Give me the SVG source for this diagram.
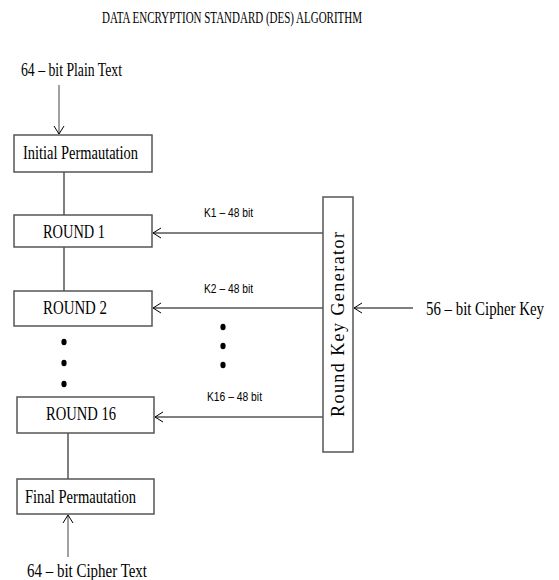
<svg xmlns="http://www.w3.org/2000/svg" width="559" height="580" viewBox="0 0 559 580">
  <style>
    .box { fill: #ffffff; stroke: #555555; stroke-width: 1.5; }
    .serif { font-family: "Liberation Serif", "Times New Roman", serif; fill: #000000; }
    .sans { font-family: "Liberation Sans", Arial, sans-serif; fill: #000000; font-size: 12px; }
    .link { stroke: #555555; stroke-width: 1.5; fill: none; }
    .key { stroke: #000000; stroke-width: 1; fill: none; marker-end: url(#open); }
    .feed { stroke: #444444; stroke-width: 1; fill: none; marker-end: url(#open); }
    .dot { fill: #000000; }
  </style>
  <defs>
    <marker id="open" viewBox="0 0 12 12" refX="11" refY="6" markerWidth="12" markerHeight="12" markerUnits="userSpaceOnUse" orient="auto">
      <polyline points="3,1 11,6 3,11" fill="none" stroke="#000000" stroke-width="1"/>
    </marker>
  </defs>

  <rect width="559" height="580" fill="#ffffff"/>

  <text class="serif" x="102" y="23" font-size="16" textLength="260" lengthAdjust="spacingAndGlyphs">DATA ENCRYPTION STANDARD (DES) ALGORITHM</text>

  <text class="serif" x="21" y="76" font-size="18" textLength="101" lengthAdjust="spacingAndGlyphs">64 – bit Plain Text</text>
  <!-- tall, narrow key label: vertical stretch keeps the glyph box inside the canvas -->
  <text class="serif" transform="translate(426 315) scale(1 1.2)" x="0" y="0" font-size="15" textLength="118" lengthAdjust="spacingAndGlyphs">56 – bit Cipher Key</text>
  <text class="serif" x="27" y="577" font-size="18" textLength="120" lengthAdjust="spacingAndGlyphs">64 – bit Cipher Text</text>

  <!-- connectors -->
  <g id="connectors">
    <line class="feed" x1="59" y1="85" x2="59" y2="134"/>
    <line class="link" x1="64" y1="172" x2="64" y2="215"/>
    <line class="link" x1="64" y1="247" x2="64" y2="291"/>
    <line class="link" x1="68" y1="433" x2="68" y2="479"/>
    <line class="feed" x1="68" y1="557" x2="68" y2="515"/>
    <line class="key" x1="323" y1="233" x2="153" y2="233"/>
    <line class="key" x1="323" y1="308" x2="153" y2="308"/>
    <line class="key" x1="323" y1="417" x2="155" y2="417"/>
    <line class="key" x1="413" y1="308" x2="354" y2="308"/>
    <text class="sans" x="204" y="217" textLength="49" lengthAdjust="spacingAndGlyphs">K1 – 48 bit</text>
    <text class="sans" x="204" y="293" textLength="49" lengthAdjust="spacingAndGlyphs">K2 – 48 bit</text>
    <text class="sans" x="207" y="401" textLength="55" lengthAdjust="spacingAndGlyphs">K16 – 48 bit</text>
  </g>

  <!-- ellipsis between rounds -->
  <g id="ellipsis-rounds">
    <ellipse class="dot" cx="64" cy="342" rx="2.6" ry="3.2"/>
    <ellipse class="dot" cx="64" cy="363" rx="2.6" ry="3.2"/>
    <ellipse class="dot" cx="64" cy="384" rx="2.6" ry="3.2"/>
  </g>
  <g id="ellipsis-keys">
    <ellipse class="dot" cx="223" cy="327" rx="2.6" ry="3.2"/>
    <ellipse class="dot" cx="223" cy="346" rx="2.6" ry="3.2"/>
    <ellipse class="dot" cx="223" cy="365" rx="2.6" ry="3.2"/>
  </g>

  <g id="initial-permutation">
    <rect class="box" x="14" y="135" width="138" height="37"/>
    <text class="serif" x="23" y="159" font-size="18" textLength="115" lengthAdjust="spacingAndGlyphs">Initial Permautation</text>
  </g>

  <g id="round-1">
    <rect class="box" x="14" y="215" width="138" height="32"/>
    <text class="serif" x="43" y="238" font-size="18" textLength="62" lengthAdjust="spacingAndGlyphs">ROUND 1</text>
  </g>

  <g id="round-2">
    <rect class="box" x="14" y="291" width="138" height="35"/>
    <text class="serif" x="43" y="314" font-size="18" textLength="64" lengthAdjust="spacingAndGlyphs">ROUND 2</text>
  </g>

  <g id="round-16">
    <rect class="box" x="17" y="397" width="137" height="36"/>
    <text class="serif" x="46" y="420" font-size="18" textLength="70" lengthAdjust="spacingAndGlyphs">ROUND 16</text>
  </g>

  <g id="final-permutation">
    <rect class="box" x="17" y="479" width="137" height="35"/>
    <text class="serif" x="25" y="503" font-size="18" textLength="111" lengthAdjust="spacingAndGlyphs">Final Permautation</text>
  </g>

  <g id="round-key-generator">
    <rect class="box" x="323" y="197" width="30" height="255"/>
    <text class="serif" transform="translate(344 417) rotate(-90)" x="0" y="0" font-size="18" textLength="185" lengthAdjust="spacing">Round Key Generator</text>
  </g>
</svg>
